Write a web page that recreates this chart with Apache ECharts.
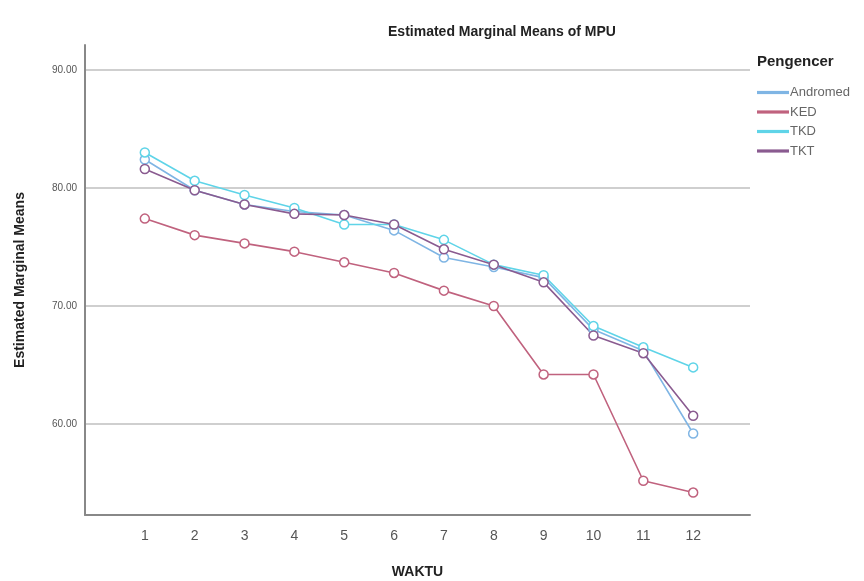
<!DOCTYPE html>
<html>
<head>
<meta charset="utf-8">
<script src="https://cdn.jsdelivr.net/npm/echarts@6/dist/echarts.min.js"></script>
<style>html,body{margin:0;padding:0;background:#fff}#c{width:864px;height:581px}</style>
</head>
<body>
<div id="c"></div>
<script>
const waktu = [1,2,3,4,5,6,7,8,9,10,11,12];
const andromed = [82.4,79.8,78.6,78.0,77.7,76.4,74.1,73.3,72.4,68.0,66.2,59.2];
const ked      = [77.4,76.0,75.3,74.6,73.7,72.8,71.3,70.0,64.2,64.2,55.2,54.2];
const tkd      = [83.0,80.6,79.4,78.3,76.9,76.9,75.6,73.5,72.6,68.3,66.5,64.8];
const tkt      = [81.6,79.8,78.6,77.8,77.7,76.9,74.8,73.5,72.0,67.5,66.0,60.7];
const yTicks = [60,70,80,90];
const yTickLabels = ['60.00','70.00','80.00','90.00'];
const seriesNames = ['Andromed','KED','TKD','TKT'];
const seriesColors = ['#7fb5e4','#c0627e','#5fd4e8','#8a5b90'];
const seriesData = [andromed, ked, tkd, tkt];

const font = 'Liberation Sans, Arial, sans-serif';
const chart = echarts.init(document.getElementById('c'), null, {renderer:'canvas'});
chart.setOption({
  animation:false,
  backgroundColor:'#fff',
  title:{
    text:'Estimated Marginal Means of MPU',
    left:497, top:20, textAlign:'center',
    textStyle:{fontFamily:font,fontSize:14,fontWeight:'bold',color:'#222'}
  },
  graphic:[{
    type:'text', left:757, top:54,
    style:{text:'Pengencer', font:'bold 15px '+font, fill:'#222'}
  }],
  legend:{
    orient:'vertical', left:757, top:86, itemGap:6.5, padding:0,
    itemWidth:30, itemHeight:1.2,
    icon:'rect',
    textStyle:{fontFamily:font,fontSize:13,color:'#666',padding:[0,0,0,-3]},
    data:seriesNames
  },
  grid:{left:85, right:114, top:45, bottom:66, outerBoundsMode:'none', containLabel:false},
  xAxis:{
    type:'value', min:-0.2, max:13.14,
    name:'WAKTU', nameLocation:'middle', nameGap:50,
    nameTextStyle:{fontFamily:font,fontSize:14,fontWeight:'bold',color:'#222'},
    axisLine:{show:true,onZero:false,lineStyle:{color:'#888',width:2}},
    axisTick:{show:false, customValues:waktu},
    axisLabel:{customValues:waktu, fontFamily:font, fontSize:14, color:'#555', margin:14},
    splitLine:{show:false}
  },
  yAxis:{
    type:'value', min:52.3, max:92.1,
    name:'Estimated Marginal Means', nameLocation:'middle', nameGap:58,
    nameTextStyle:{fontFamily:font,fontSize:14,fontWeight:'bold',color:'#222'},
    axisLine:{show:true,onZero:false,lineStyle:{color:'#888',width:2}},
    axisTick:{show:false, customValues:yTicks},
    axisLabel:{customValues:yTicks, fontFamily:font, fontSize:10, color:'#555', margin:8,
      formatter:function(v){const i=yTicks.indexOf(Math.round(v));return i>=0?yTickLabels[i]:'';}},
    splitLine:{show:true,lineStyle:{color:'#cfcfcf',width:2}}
  },
  series: seriesNames.map((n,i)=>({
    name:n, type:'line',
    data: waktu.map((w,j)=>[w, seriesData[i][j]]),
    symbol:'circle', symbolSize:9,
    itemStyle:{color:'#ffffff', borderColor:seriesColors[i], borderWidth:1.5, opacity:1},
    lineStyle:{color:seriesColors[i], width:1.6},
    color:seriesColors[i]
  }))
});
</script>
</body>
</html>
